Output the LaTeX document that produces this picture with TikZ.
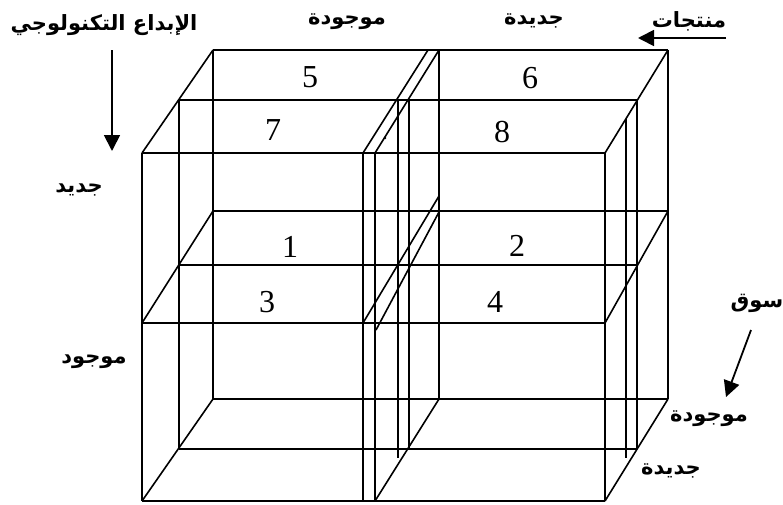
\documentclass[tikz,border=0pt]{standalone}
\usepackage{fontspec}
\setmainfont{Liberation Serif}
\newfontfamily\arabicfont[Script=Arabic]{DejaVu Sans}
\TeXXeTstate=1
\usetikzlibrary{arrows.meta}
\begin{document}
\begin{tikzpicture}[x=1pt,y=-1pt,
  edge/.style={line width=1.6pt},
  num/.style={font=\fontsize{32}{32}\selectfont},
  lab/.style={font=\arabicfont\bfseries\fontsize{21}{24}\selectfont},
  arr/.style={line width=1.8pt,-{Triangle[width=16pt,length=16pt]}}]
\useasboundingbox (0,0) rectangle (783,504);
% horizontal lines
\draw[edge] (213,50) -- (668,50);
\draw[edge] (179,100) -- (637,100);
\draw[edge] (142,153) -- (605,153);
\draw[edge] (213,211) -- (668,211);
\draw[edge] (179,265) -- (637,265);
\draw[edge] (142,323) -- (605,323);
\draw[edge] (213,399) -- (668,399);
\draw[edge] (179,449) -- (637,449);
\draw[edge] (142,501) -- (605,501);
% vertical lines
\draw[edge] (213,50) -- (213,399);
\draw[edge] (439,50) -- (439,399);
\draw[edge] (668,50) -- (668,399);
\draw[edge] (179,100) -- (179,449);
\draw[edge] (398,100) -- (398,458);
\draw[edge] (409,100) -- (409,449);
\draw[edge] (637,100) -- (637,449);
\draw[edge] (626,119) -- (626,458);
\draw[edge] (142,153) -- (142,501);
\draw[edge] (363,153) -- (363,501);
\draw[edge] (375,153) -- (375,501);
\draw[edge] (605,153) -- (605,501);
% depth diagonals
\draw[edge] (213,50) -- (142,153);
\draw[edge] (213,211) -- (142,323);
\draw[edge] (213,399) -- (142,501);
\draw[edge] (428,50) -- (363,153);
\draw[edge] (439,50) -- (375,153);
\draw[edge] (439,196) -- (363,323);
\draw[edge] (439,212) -- (376,330);
\draw[edge] (439,399) -- (375,501);
\draw[edge] (668,50) -- (605,153);
\draw[edge] (668,211) -- (605,323);
\draw[edge] (668,399) -- (605,501);
\fill (385,138) circle (1.3pt);
% numbers
\node[num] (n5) at (310,77) {5};
\node[num] (n6) at (530,78) {6};
\node[num] (n7) at (273,130) {7};
\node[num] (n8) at (502,132) {8};
\node[num] (n1) at (290,247) {1};
\node[num] (n2) at (517,246) {2};
\node[num] (n3) at (267,302) {3};
\node[num] (n4) at (495,302) {4};
% labels
\node[lab] (tech) at (104,25) {\beginR الإبداع التكنولوجي\endR};
\node[lab] (pex) at (347,22) {\beginR موجودة\endR};
\node[lab] (pnew) at (534,21) {\beginR جديدة\endR};
\node[lab] (prod) at (689,21) {\beginR منتجات\endR};
\node[lab] (tnew) at (79,190) {\beginR جديد\endR};
\node[lab] (tex) at (94,362) {\beginR موجود\endR};
\node[lab] (mkt) at (757,303) {\beginR سوق\endR};
\node[lab] (mex) at (709,419) {\beginR موجودة\endR};
\node[lab] (mnew) at (671,471) {\beginR جديدة\endR};
% arrows
\coordinate (a1s) at (112,50);
\coordinate (a1e) at (112,151);
\draw[arr] (a1s) -- (a1e);
\coordinate (a2s) at (726,38);
\coordinate (a2e) at (638,38);
\draw[arr] (a2s) -- (a2e);
\coordinate (a3s) at (751,330);
\coordinate (a3e) at (726,397);
\draw[arr] (a3s) -- (a3e);
\end{tikzpicture}
\end{document}
